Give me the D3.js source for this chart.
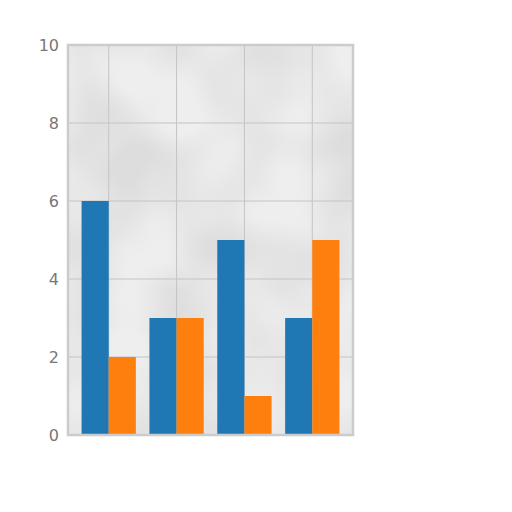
<!DOCTYPE html>
<html>
<head>
<meta charset="utf-8">
<script src="https://cdn.jsdelivr.net/npm/d3@7"></script>
<style>
  body { margin: 0; background: #fff; }
</style>
</head>
<body>
<div id="chart"></div>
<script>
// data
var groups = ["A", "B", "C", "D"];
var series = ["s1", "s2"];
var blueValues = [6, 3, 5, 3];
var orangeValues = [2, 3, 1, 5];
var yTicks = [0, 2, 4, 6, 8, 10];
var colors = ["#1f77b4", "#ff7f0e"];

var margin = {top: 45, right: 159, bottom: 77, left: 68},
    width = 512 - margin.left - margin.right,
    height = 512 - margin.top - margin.bottom;

var svg = d3.select("#chart")
  .append("svg")
  .attr("width", 512)
  .attr("height", 512);

// mottled grey background, like the smudged original
var defs = svg.append("defs");
var f = defs.append("filter").attr("id", "smudge")
  .attr("x", 0).attr("y", 0).attr("width", 1).attr("height", 1);
f.append("feTurbulence").attr("type", "fractalNoise")
  .attr("baseFrequency", 0.012).attr("numOctaves", 2).attr("seed", 3).attr("result", "n");
f.append("feColorMatrix").attr("in", "n").attr("type", "matrix")
  .attr("values", "0 0 0 0 0.72  0 0 0 0 0.72  0 0 0 0 0.72  2.2 0 0 0 -0.75")
  .attr("result", "g");
f.append("feComposite").attr("in", "g").attr("in2", "SourceGraphic").attr("operator", "in");

var g = svg.append("g")
  .attr("transform", "translate(" + margin.left + "," + margin.top + ")");

g.append("rect")
  .attr("width", width)
  .attr("height", height)
  .attr("fill", "#eeeeee");
g.append("rect")
  .attr("width", width)
  .attr("height", height)
  .attr("fill", "#000")
  .attr("filter", "url(#smudge)");

var x0 = d3.scaleBand()
  .domain(groups)
  .range([0, width])
  .paddingInner(0.2)
  .paddingOuter(0.2);

var x1 = d3.scaleBand()
  .domain(series)
  .range([0, x0.bandwidth()]);

var y = d3.scaleLinear()
  .domain([0, 10])
  .range([height, 0]);

// grid
g.append("g")
  .selectAll("line.h")
  .data(yTicks)
  .enter().append("line")
  .attr("x1", 0).attr("x2", width)
  .attr("y1", d => y(d)).attr("y2", d => y(d))
  .attr("stroke", "#c4c4c4").attr("stroke-width", 1);

g.append("g")
  .selectAll("line.v")
  .data(groups)
  .enter().append("line")
  .attr("x1", d => x0(d) + x0.bandwidth() / 2)
  .attr("x2", d => x0(d) + x0.bandwidth() / 2)
  .attr("y1", 0).attr("y2", height)
  .attr("stroke", "#c4c4c4").attr("stroke-width", 1);

// bars
var rows = groups.map((d, i) => ({group: d, values: [blueValues[i], orangeValues[i]]}));

var grp = g.selectAll("g.grp")
  .data(rows)
  .enter().append("g")
  .attr("class", "grp")
  .attr("transform", d => "translate(" + x0(d.group) + ",0)");

grp.selectAll("rect")
  .data(d => d.values.map((v, j) => ({key: series[j], value: v, color: colors[j]})))
  .enter().append("rect")
  .attr("x", d => x1(d.key))
  .attr("y", d => y(d.value))
  .attr("width", x1.bandwidth())
  .attr("height", d => height - y(d.value))
  .attr("fill", d => d.color);

// frame
g.append("rect")
  .attr("width", width)
  .attr("height", height)
  .attr("fill", "none")
  .attr("stroke", "#cccccc")
  .attr("stroke-width", 2.5);

// y axis labels
var yAxis = d3.axisLeft(y).tickValues(yTicks).tickSize(0).tickPadding(9);
var ya = g.append("g").call(yAxis);
ya.select(".domain").remove();
ya.selectAll("text")
  .attr("font-family", "DejaVu Sans, sans-serif")
  .attr("font-size", 16)
  .attr("fill", "#777");
</script>
</body>
</html>
